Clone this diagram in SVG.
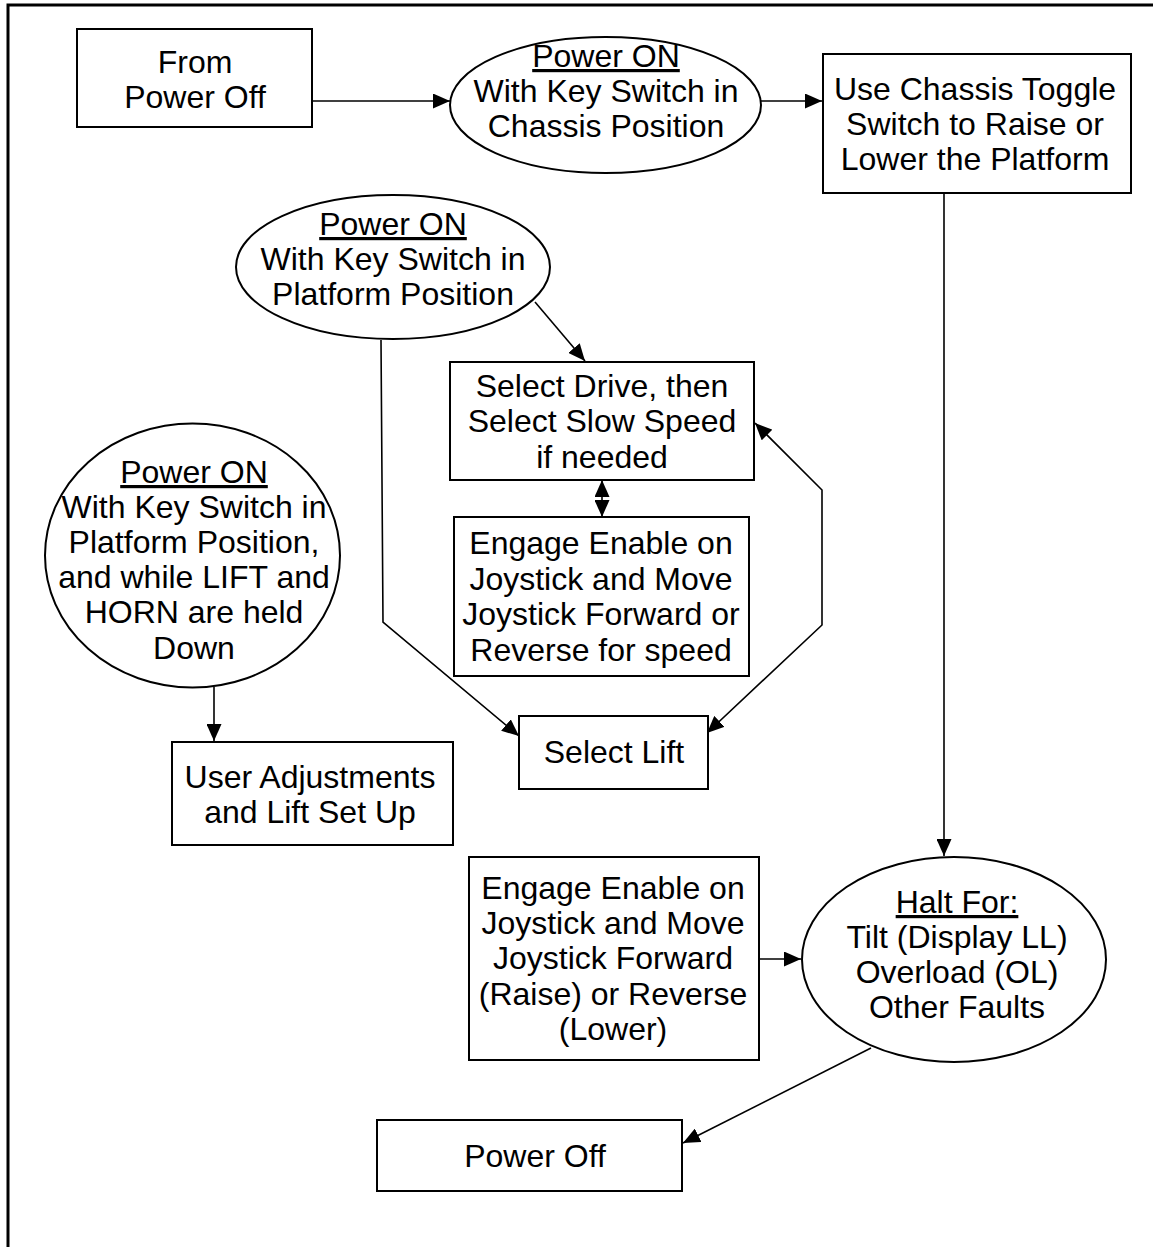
<svg xmlns="http://www.w3.org/2000/svg" width="1153" height="1247" viewBox="0 0 1153 1247">
<defs>
<marker id="ah" markerUnits="userSpaceOnUse" markerWidth="17" markerHeight="15" refX="17" refY="7.5" orient="auto-start-reverse" viewBox="0 0 17 15">
<path d="M0,0 L17,7.5 L0,15 z" fill="#000"/>
</marker>
<style>
.n{fill:#fff;stroke:#000;stroke-width:2}
.t{font-family:"Liberation Sans",Arial,sans-serif;font-size:32px;fill:#000;text-anchor:middle}
.u{text-decoration:underline}
.c{fill:none;stroke:#000;stroke-width:1.6}
</style>
</defs>
<rect width="1153" height="1247" fill="#fff"/>
<path d="M8,1247 V5 H1153" fill="none" stroke="#000" stroke-width="3"/>

<g id="connectors" class="c">
<path d="M312,101 H450" marker-end="url(#ah)"/>
<path d="M761,101 H822" marker-end="url(#ah)"/>
<path d="M944,193 V856" marker-end="url(#ah)"/>
<path d="M535,302 L585,361" marker-end="url(#ah)"/>
<path d="M602,480 V517" marker-start="url(#ah)" marker-end="url(#ah)"/>
<path d="M381,340 L383,622 L519,736" marker-end="url(#ah)"/>
<path d="M707,733 L822,625 L822,490 L755,423" marker-start="url(#ah)" marker-end="url(#ah)"/>
<path d="M214,687 V741" marker-end="url(#ah)"/>
<path d="M759,959 H801" marker-end="url(#ah)"/>
<path d="M871,1048 L683,1143" marker-end="url(#ah)"/>
</g>

<g id="from-power-off">
<rect class="n" x="77" y="29" width="235" height="98"/>
<text class="t" x="195" y="73">From</text>
<text class="t" x="195" y="108">Power Off</text>
</g>

<g id="power-on-chassis">
<ellipse class="n" cx="605.5" cy="105" rx="155.5" ry="68"/>
<text class="t u" x="606" y="67">Power ON</text>
<text class="t" x="606" y="102">With Key Switch in</text>
<text class="t" x="606" y="137">Chassis Position</text>
</g>

<g id="chassis-toggle">
<rect class="n" x="823" y="54" width="308" height="139"/>
<text class="t" x="975" y="100">Use Chassis Toggle</text>
<text class="t" x="975" y="135">Switch to Raise or</text>
<text class="t" x="975" y="170">Lower the Platform</text>
</g>

<g id="power-on-platform">
<ellipse class="n" cx="393" cy="267" rx="157" ry="72"/>
<text class="t u" x="393" y="235">Power ON</text>
<text class="t" x="393" y="270">With Key Switch in</text>
<text class="t" x="393" y="305">Platform Position</text>
</g>

<g id="select-drive">
<rect class="n" x="450" y="362" width="304" height="118"/>
<text class="t" x="602" y="397">Select Drive, then</text>
<text class="t" x="602" y="432">Select Slow Speed</text>
<text class="t" x="602" y="468">if needed</text>
</g>

<g id="engage-drive">
<rect class="n" x="454" y="517" width="295" height="159"/>
<text class="t" x="601" y="554">Engage Enable on</text>
<text class="t" x="601" y="590">Joystick and Move</text>
<text class="t" x="601" y="625">Joystick Forward or</text>
<text class="t" x="601" y="661">Reverse for speed</text>
</g>

<g id="select-lift">
<rect class="n" x="519" y="716" width="189" height="73"/>
<text class="t" x="614" y="763">Select Lift</text>
</g>

<g id="power-on-lift-horn">
<ellipse class="n" cx="192.5" cy="555.5" rx="147.5" ry="132"/>
<text class="t u" x="194" y="483">Power ON</text>
<text class="t" x="194" y="518">With Key Switch in</text>
<text class="t" x="194" y="553">Platform Position,</text>
<text class="t" x="194" y="588">and while LIFT and</text>
<text class="t" x="194" y="623">HORN are held</text>
<text class="t" x="194" y="659">Down</text>
</g>

<g id="user-adjustments">
<rect class="n" x="172" y="742" width="281" height="103"/>
<text class="t" x="310" y="788">User Adjustments</text>
<text class="t" x="310" y="823">and Lift Set Up</text>
</g>

<g id="engage-lift">
<rect class="n" x="469" y="857" width="290" height="203"/>
<text class="t" x="613" y="899">Engage Enable on</text>
<text class="t" x="613" y="934">Joystick and Move</text>
<text class="t" x="613" y="969">Joystick Forward</text>
<text class="t" x="613" y="1005">(Raise) or Reverse</text>
<text class="t" x="613" y="1040">(Lower)</text>
</g>

<g id="halt-for">
<ellipse class="n" cx="954" cy="959.5" rx="152" ry="102.5"/>
<text class="t u" x="957" y="913">Halt For:</text>
<text class="t" x="957" y="948">Tilt (Display LL)</text>
<text class="t" x="957" y="983">Overload (OL)</text>
<text class="t" x="957" y="1018">Other Faults</text>
</g>

<g id="power-off">
<rect class="n" x="377" y="1120" width="305" height="71"/>
<text class="t" x="535" y="1167">Power Off</text>
</g>
</svg>
